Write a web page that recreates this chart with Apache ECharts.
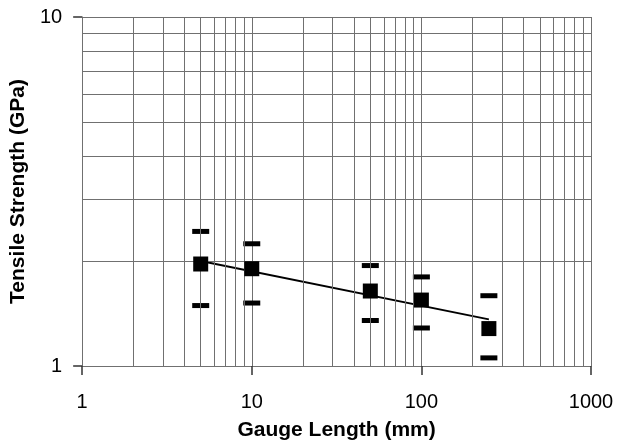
<!DOCTYPE html>
<html>
<head>
<meta charset="UTF-8">
<title></title>
<script src="https://cdn.jsdelivr.net/npm/echarts@6/dist/echarts.min.js"></script>
<style>
  html, body { margin: 0; padding: 0; background: #fff; }
  #chart { width: 627px; height: 446px; }
</style>
</head>
<body>
<div id="chart"></div>
<script>
// gauge lengths (mm) and tensile strength (GPa)
var gauge = [5, 10, 50, 100, 250];
var strength = [1.96, 1.90, 1.64, 1.545, 1.28];
var upper = [2.43, 2.24, 1.94, 1.80, 1.59];
var lower = [1.49, 1.515, 1.35, 1.285, 1.055];
// fitted trend line end points
var fitX = [5, 250];
var fitY = [2.0, 1.36];
// minor grid values
var gridX = [2, 3, 4, 5, 6, 7, 8, 9, 20, 30, 40, 50, 60, 70, 80, 90, 200, 300, 400, 500, 600, 700, 800, 900];
var gridY = [2, 3, 4, 5, 6, 7, 8, 9];

function pairs(xs, ys) {
  var out = [];
  for (var i = 0; i < xs.length; i++) out.push([xs[i], ys[i]]);
  return out;
}

var gridLines = [];
for (var i = 0; i < gridX.length; i++) gridLines.push({ xAxis: gridX[i] });
for (var j = 0; j < gridY.length; j++) gridLines.push({ yAxis: gridY[j] });

var font = '"Liberation Sans", Arial, sans-serif';
var gridColor = '#707070';

var myChart = echarts.init(document.getElementById('chart'));
var option = {
  animation: false,
  grid: { left: 81, right: 36, top: 17, bottom: 80 },
  xAxis: {
    type: 'log',
    logBase: 10,
    min: 1,
    max: 1000,
    name: 'Gauge Length (mm)',
    nameLocation: 'middle',
    nameGap: 54,
    nameTextStyle: { fontFamily: font, fontSize: 21, fontWeight: 'bold', color: '#000' },
    axisLine: { show: true, lineStyle: { color: gridColor, width: 1 } },
    axisTick: { show: true, inside: false, length: 9, lineStyle: { color: '#333', width: 1.5 } },
    axisLabel: {
      fontFamily: font, fontSize: 20, color: '#000', margin: 26,
      formatter: function (v) { return String(v); }
    },
    splitLine: { show: true, lineStyle: { color: gridColor, width: 1 } }
  },
  yAxis: {
    type: 'log',
    logBase: 10,
    min: 1,
    max: 10,
    name: 'Tensile Strength (GPa)',
    nameLocation: 'middle',
    nameGap: 46,
    nameTextStyle: { fontFamily: font, fontSize: 21, fontWeight: 'bold', color: '#000' },
    axisLine: { show: true, lineStyle: { color: gridColor, width: 1 } },
    axisTick: { show: true, inside: false, length: 9, lineStyle: { color: '#333', width: 1.5 } },
    axisLabel: {
      fontFamily: font, fontSize: 20, color: '#000', margin: 20,
      formatter: function (v) { return String(v); }
    },
    splitLine: { show: true, lineStyle: { color: gridColor, width: 1 } }
  },
  series: [
    {
      // minor grid
      type: 'line',
      data: [],
      silent: true,
      z: 1,
      markLine: {
        silent: true,
        symbol: ['none', 'none'],
        label: { show: false },
        animation: false,
        lineStyle: { color: gridColor, width: 1, type: 'solid' },
        data: gridLines
      }
    },
    {
      type: 'line',
      data: pairs(fitX, fitY),
      showSymbol: false,
      lineStyle: { color: '#000', width: 2 },
      z: 3
    },
    {
      type: 'scatter',
      data: pairs(gauge, upper),
      symbol: 'rect',
      symbolSize: [17, 5],
      itemStyle: { color: '#000', opacity: 1 },
      z: 4
    },
    {
      type: 'scatter',
      data: pairs(gauge, lower),
      symbol: 'rect',
      symbolSize: [17, 5],
      itemStyle: { color: '#000', opacity: 1 },
      z: 4
    },
    {
      type: 'scatter',
      data: pairs(gauge, strength),
      symbol: 'rect',
      symbolSize: 15,
      itemStyle: { color: '#000', opacity: 1 },
      z: 5
    }
  ]
};
myChart.setOption(option);
</script>
</body>
</html>
